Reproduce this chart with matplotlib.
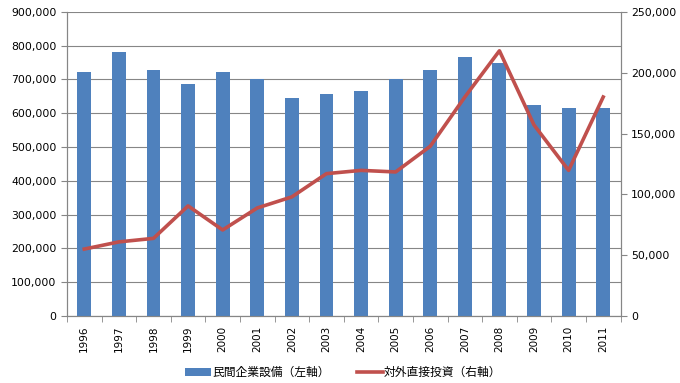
import matplotlib.pyplot as plt
import matplotlib.ticker as mticker
import numpy as np

plt.rcParams['font.family'] = ['DejaVu Sans', 'Noto Sans CJK JP']

years = [str(y) for y in range(1996, 2012)]
# 民間企業設備 (left axis)
capex = [722000, 782000, 729000, 688000, 722000, 701000, 646000, 658000,
         667000, 702000, 729000, 765000, 748000, 625000, 616000, 616000]
# 対外直接投資 (right axis)
fdi = [55000, 60900, 63800, 90500, 70700, 88800, 97900, 117000,
       119700, 118400, 139500, 180000, 218000, 157000, 119700, 180000]

fig = plt.figure(figsize=(6.8, 3.83), dpi=100)
ax = fig.add_axes([0.0985, 0.175, 0.814, 0.794])
ax2 = ax.twinx()

x = np.arange(len(years))
bars = ax.bar(x, capex, width=0.4, color='#4F81BD', zorder=3)
line, = ax2.plot(x, fdi, color='#C0504D', lw=2.6, zorder=4)

ax.set_xlim(-0.5, len(years) - 0.5)
ax.set_ylim(0, 900000)
ax2.set_ylim(0, 250000)
ax.yaxis.set_major_locator(mticker.MultipleLocator(100000))
ax2.yaxis.set_major_locator(mticker.MultipleLocator(50000))
fmt = mticker.FuncFormatter(lambda v, p: f'{int(v):,}')
ax.yaxis.set_major_formatter(fmt)
ax2.yaxis.set_major_formatter(fmt)
ax.grid(axis='y', color='#868686', lw=0.8, zorder=0)

ax.set_xticks(x)
ax.set_xticklabels(years, rotation=90, fontsize=7.5)
ax.set_xticks(np.arange(-0.5, len(years)), minor=True)
ax.tick_params(axis='x', which='major', length=0, pad=7)
ax.tick_params(axis='x', which='minor', length=4, color='#868686')
ax.tick_params(axis='y', labelsize=7.8, length=4, color='#868686')
ax2.tick_params(axis='y', labelsize=7.8, length=4, color='#868686')

for a in (ax, ax2):
    a.spines['top'].set_visible(False)
    for s in ('left', 'right', 'bottom'):
        a.spines[s].set_color('#868686')
ax2.patch.set_visible(False)

fig.legend([bars, line], ['民間企業設備（左軸）', '対外直接投資（右軸）'],
           loc='center', bbox_to_anchor=(0.505, 0.027), ncol=2, frameon=False,
           handlelength=2.2, handleheight=0.55, handletextpad=0.1,
           columnspacing=2.3,
           prop={'family': ['Noto Sans CJK JP'], 'size': 8.5})

fig.savefig('out.png', dpi=100)
